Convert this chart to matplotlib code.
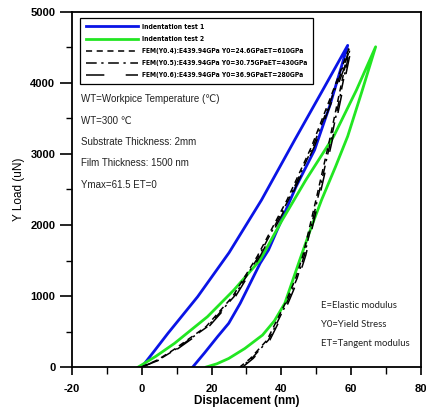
import matplotlib
matplotlib.use("Agg")
import matplotlib.pyplot as plt
from matplotlib import font_manager
from matplotlib.font_manager import FontProperties
from matplotlib.ticker import MultipleLocator

# ---------- data ----------
# Indentation test 1 (blue)
t1_load_x = [0, 3.5, 7.5, 16, 25, 34.3, 43.8, 51.5, 59]
t1_load_y = [0, 220, 475, 990, 1610, 2352, 3197, 3870, 4530]
t1_unload_x = [59, 54, 49.5, 44.2, 36.3, 33.9, 28.2, 24.9, 21.7, 18, 14.6]
t1_unload_y = [4530, 3700, 3056, 2540, 1648, 1460, 897, 615, 427, 200, 0]

# Indentation test 2 (green)
t2_load_x = [-1, 4, 9.4, 18.8, 26.4, 33.9, 40, 47, 55, 61.5, 67]
t2_load_y = [0, 150, 334, 708, 1085, 1507, 2050, 2634, 3250, 3900, 4510]
t2_unload_x = [67, 63, 59, 55.5, 51.5, 48.5, 45.2, 41, 38, 34.6, 29.5, 24.9, 21.5, 18.5]
t2_unload_y = [4510, 3870, 3250, 2820, 2352, 1960, 1500, 900, 650, 450, 260, 120, 45, 0]

# FEM curves (black): loading then unloading
fem4_x = [0, 4.5, 9.0, 18.4, 26.0, 33.1, 41.6, 48.6, 54.1, 59.3,
          53.8, 49.9, 46.2, 44.1, 41.1, 35.9, 31.1, 28.1]
fem4_y = [0, 100, 239, 568, 990, 1560, 2352, 3100, 3800, 4480,
          3197, 2352, 1577, 1250, 897, 380, 120, 0]
fem5_x = [0, 4.8, 9.4, 18.8, 26.4, 33.5, 42.0, 49.0, 54.5, 59.6,
          54.2, 50.3, 46.6, 44.5, 41.5, 36.3, 31.5, 28.5]
fem5_y = [0, 100, 239, 568, 990, 1560, 2352, 3100, 3800, 4470,
          3197, 2352, 1577, 1250, 897, 380, 120, 0]
fem6_x = [0, 5.1, 9.8, 19.2, 26.8, 33.9, 42.4, 49.4, 54.9, 59.9,
          54.6, 50.7, 47.0, 44.9, 41.9, 36.7, 31.9, 28.9]
fem6_y = [0, 100, 239, 568, 990, 1560, 2352, 3100, 3800, 4460,
          3197, 2352, 1577, 1250, 897, 380, 120, 0]

labels = ["Indentation test 1", "Indentation test 2",
          "FEM(Y0.4):E439.94GPa Y0=24.6GPaET=610GPa",
          "FEM(Y0.5):E439.94GPa Y0=30.75GPaET=430GPa",
          "FEM(Y0.6):E439.94GPa Y0=36.9GPaET=280GPa"]

notes_left = ["WT=Workpice Temperature (\u2103)", "WT=300 \u2103",
              "Substrate Thickness: 2mm", "Film Thickness: 1500 nm",
              "Ymax=61.5 ET=0"]
notes_right = ["E=Elastic modulus", "Y0=Yield Stress", "ET=Tangent modulus"]


def pick(name, fallback):
    names = {f.name for f in font_manager.fontManager.ttflist}
    return name if name in names else fallback


def narrow_bold(size):
    # look for a condensed / narrow bold face, else shrink a normal one
    cands = []
    for f in font_manager.fontManager.ttflist:
        low = (f.fname + " " + f.name).lower()
        if ("narrow" in low or "condensed" in low) and f.weight in (700, "bold"):
            cands.append(f)
    cands.sort(key=lambda f: ("liberation" not in f.fname.lower(),
                              "dejavu" not in f.fname.lower()))
    if cands:
        return FontProperties(fname=cands[0].fname, size=size)
    return FontProperties(family=pick("Liberation Sans", "DejaVu Sans"),
                          weight="bold", size=size * 0.72)


arial = pick("Liberation Sans", "DejaVu Sans")
calib = pick("Lato", "DejaVu Sans")

plt.rcParams["font.family"] = [arial, "DejaVu Sans"]
plt.rcParams["axes.unicode_minus"] = False

fig = plt.figure(figsize=(4.27, 4.17), dpi=100)
ax = fig.add_axes([72 / 427, 1 - 367 / 417, 349 / 427, 355 / 417])

ax.plot(t1_load_x + t1_unload_x, t1_load_y + t1_unload_y,
        color="#0a14e6", lw=2.0, label=labels[0])
ax.plot(t2_load_x + t2_unload_x, t2_load_y + t2_unload_y,
        color="#22e622", lw=2.0, label=labels[1])
ax.plot(fem4_x, fem4_y, color="black", lw=1.1, dashes=(4, 3), label=labels[2])
ax.plot(fem5_x, fem5_y, color="black", lw=1.1, dashes=(7, 3, 1.5, 3), label=labels[3])
ax.plot(fem6_x, fem6_y, color="black", lw=1.1, dashes=(12, 14), label=labels[4])

ax.set_xlim(-20, 80)
ax.set_ylim(0, 5000)
ax.xaxis.set_major_locator(MultipleLocator(20))
ax.xaxis.set_minor_locator(MultipleLocator(10))
ax.yaxis.set_major_locator(MultipleLocator(1000))
ax.yaxis.set_minor_locator(MultipleLocator(500))
ax.tick_params(axis="y", which="major", length=8.5, width=1.2, direction="out",
               labelsize=8)
ax.tick_params(axis="y", which="minor", length=4, width=1.0, direction="out")
ax.tick_params(axis="x", which="major", length=6, width=1.2, direction="out",
               labelsize=8, pad=6)
ax.tick_params(axis="x", which="minor", length=5, width=1.0, direction="out")
for lab in ax.get_xticklabels() + ax.get_yticklabels():
    lab.set_fontweight("bold")
for s in ax.spines.values():
    s.set_linewidth(1.3)

ax.set_xlabel("Displacement (nm)", fontsize=8.5, fontweight="bold", labelpad=1)
ax.set_ylabel("Y Load (uN)", fontsize=8.5, labelpad=4)

leg = ax.legend(loc="upper left", bbox_to_anchor=(80 / 427, 1 - 18 / 417),
                bbox_transform=fig.transFigure, borderaxespad=0,
                prop=narrow_bold(4.9),
                handlelength=7.6, handletextpad=0.6, labelspacing=0.9,
                borderpad=0.85, fancybox=False, framealpha=1)
leg.get_frame().set_edgecolor("black")
leg.get_frame().set_linewidth(0.9)

for i, t in enumerate(notes_left):
    fig.text(81 / 427, 1 - (99 + i * 21.5) / 417, t, fontsize=7,
             color="#222222", va="center", ha="left")
for i, t in enumerate(notes_right):
    fig.text(321 / 427, 1 - (306 + i * 18.5) / 417, t, fontsize=6.8,
             family=[calib, "DejaVu Sans"], color="#222222",
             va="center", ha="left")

fig.savefig("out.png", dpi=100)
